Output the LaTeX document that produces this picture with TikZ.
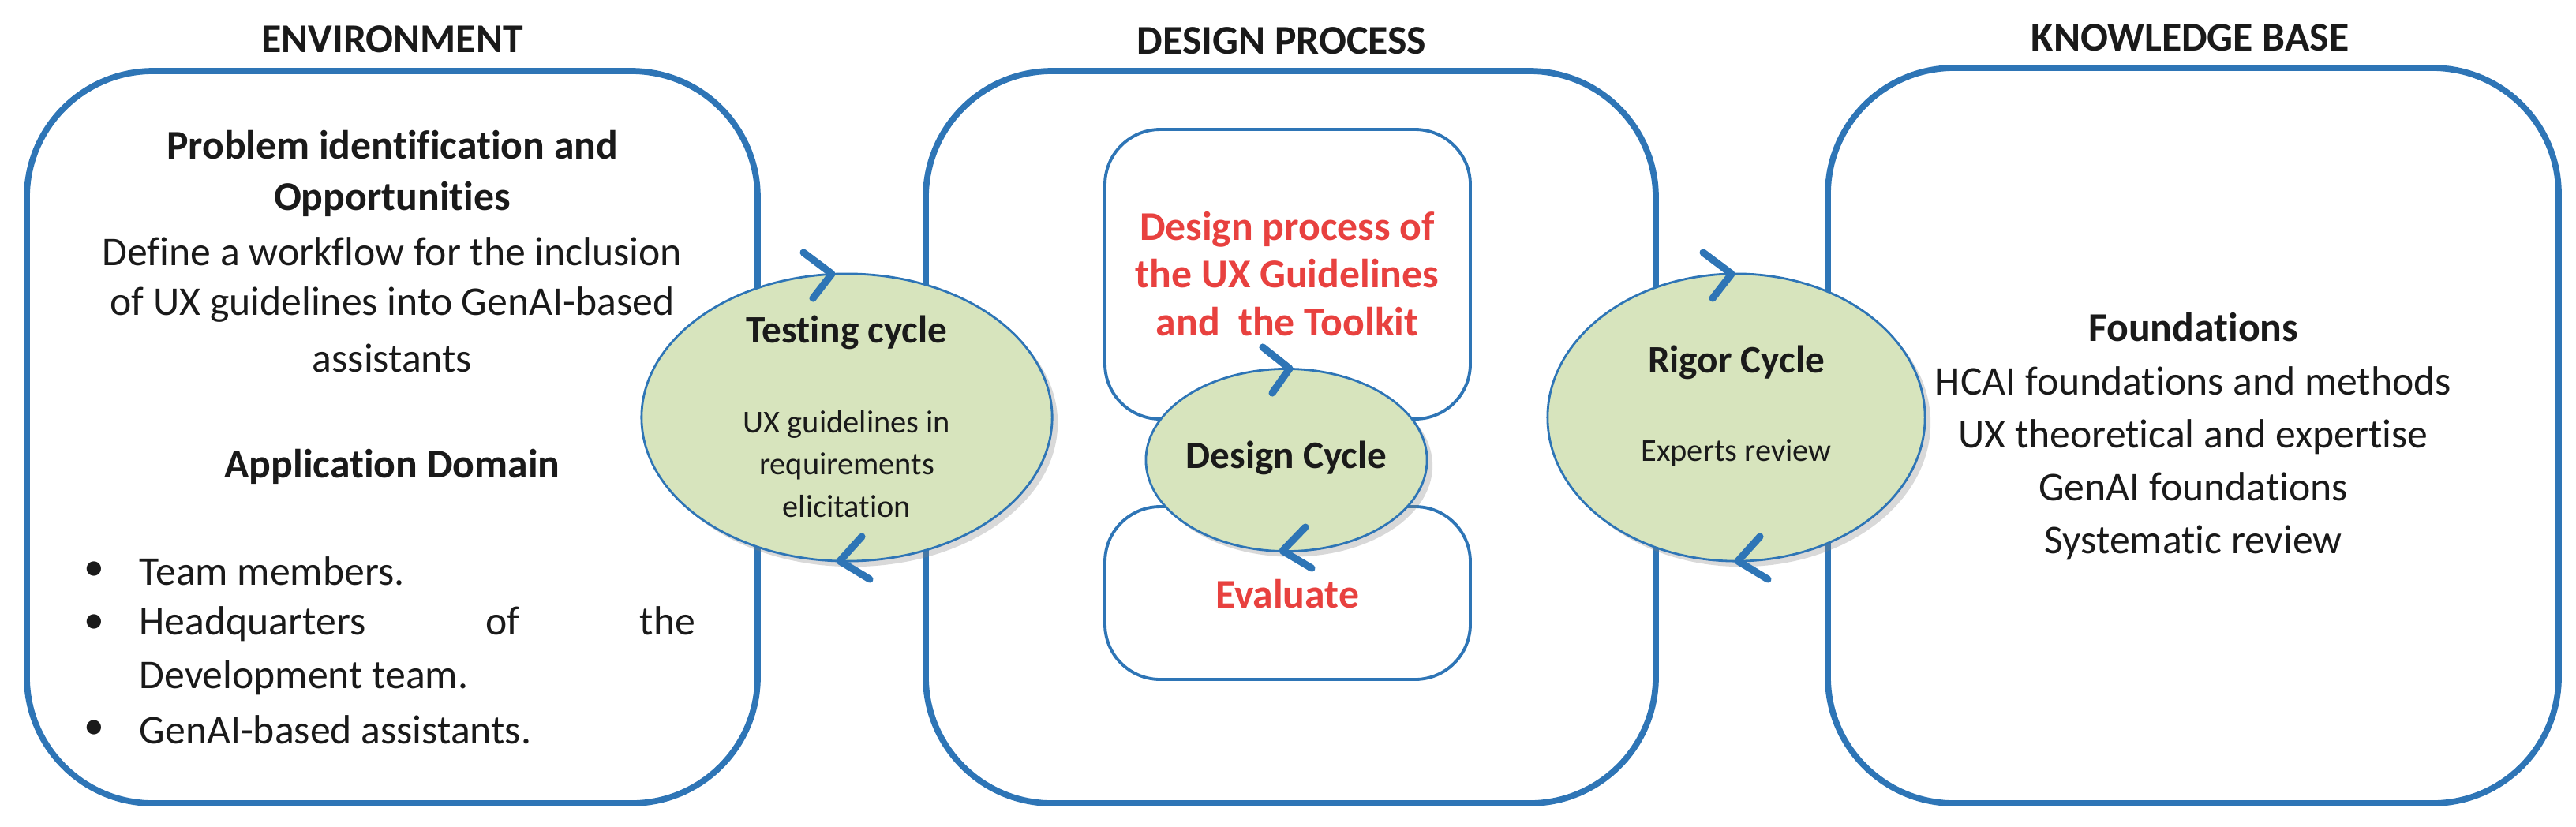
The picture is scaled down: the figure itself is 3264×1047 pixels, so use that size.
\documentclass[tikz,border=0pt]{standalone}
\usepackage{fontspec}
\setmainfont{Carlito}[Ligatures={NoCommon}]
\usetikzlibrary{shapes.geometric,shadows}
\definecolor{bl}{HTML}{2E75B6}
\definecolor{gr}{HTML}{D7E4BD}
\definecolor{rd}{HTML}{E8413F}
\definecolor{tx}{HTML}{1A1A1A}
\begin{document}
\begin{tikzpicture}[x=0.01cm,y=-0.01cm,
  big/.style={draw=bl,line width=2.2pt,rounded corners=1.6cm},
  inner/.style={draw=bl,line width=1.1pt,rounded corners=0.7cm,fill=white},
  cyc/.style={ellipse,draw=bl,line width=0.8pt,fill=gr,inner sep=0pt,drop shadow={shadow xshift=2pt,shadow yshift=-2pt,opacity=0.3}},
  ttl/.style={font=\fontsize{14.7}{17}\selectfont\bfseries,text=tx},
  body/.style={font=\fontsize{14.7}{19}\selectfont,text=tx,align=center},
  bodyb/.style={font=\fontsize{14.7}{19}\selectfont\bfseries,text=tx,align=center},
  cycb/.style={font=\fontsize{14}{17}\selectfont\bfseries,text=tx,align=center},
  small/.style={font=\fontsize{11.5}{15.2}\selectfont,text=tx,align=center},
  chev/.style={draw=bl,line width=2.6pt,line cap=round,line join=round}]
\useasboundingbox (0,0) rectangle (3264,1047);
% big boxes
\draw[big] (34,90) rectangle (960,1018);
\draw[big] (1173,90) rectangle (2098,1018);
\draw[big] (2316,86) rectangle (3242,1018);
\node[ttl] (tenv) at (497,50) {ENVIRONMENT};
\node[ttl] (tdp) at (1624,52) {DESIGN PROCESS};
\node[ttl] (tkb) at (2775,48) {KNOWLEDGE BASE};
% left content
\node[bodyb] (p1) at (497,184) {Problem identification and};
\node[bodyb] (p2) at (497,252) {Opportunities};
\node[body] (p3) at (497,319) {Define a workflow for the inclusion};
\node[body] (p4) at (497,386) {of UX guidelines into GenAI-based};
\node[body] (p5) at (497,454) {assistants};
\node[bodyb] (ad) at (497,591) {Application Domain};
\node[body] (b1d) at (119,724) {\textbullet};
\node[body,anchor=west,inner sep=0pt] (b1) at (176,724) {Team members.};
\node[body] (b2d) at (119,791) {\textbullet};
\node[body,anchor=west,inner sep=0pt] (b2) at (176,791) {\hbox to 7.04cm{Headquarters\hfill of\hfill the}};
\node[body,anchor=west,inner sep=0pt] (b2b) at (176,859) {Development team.};
\node[body] (b3d) at (119,925) {\textbullet};
\node[body,anchor=west,inner sep=0pt] (b3) at (176,925) {GenAI-based assistants.};
% middle inner boxes
\draw[inner] (1400,164) rectangle (1863,531);
\draw[inner] (1400,642) rectangle (1863,861);
\node[bodyb,text=rd,font=\fontsize{14.7}{17.3}\selectfont\bfseries] (dp) at (1631,347) {Design process of\\the UX Guidelines\\and\ \ the Toolkit};
\node[bodyb,text=rd] (ev) at (1631,753) {Evaluate};
% right content
\node[bodyb] (fd) at (2779,415) {Foundations};
\node[body] (fl) at (2779,587) {HCAI foundations and methods\\UX theoretical and expertise\\GenAI foundations\\Systematic review};
% cycles
\node[cyc,minimum width=5.2cm,minimum height=3.64cm] (tc) at (1073,529) {};
\node[cycb] (tct) at (1073,421) {Testing cycle};
\node[small] (tcs) at (1073,588) {UX guidelines in\\requirements\\elicitation};
\node[cyc,minimum width=3.56cm,minimum height=2.31cm] (dc) at (1630,583) {};
\node[cycb] (dct) at (1630,580) {Design Cycle};
\node[cyc,minimum width=4.78cm,minimum height=3.64cm] (rc) at (2200,529) {};
\node[cycb] (rct) at (2200,459) {Rigor Cycle};
\node[small] (rcs) at (2200,574) {Experts review};
% chevrons
\draw[chev] (1018,320) -- (1054,347) -- (1030,378);
\draw[chev] (1092,680) -- (1064,711) -- (1102,734);
\draw[chev] (1600,440) -- (1634,467) -- (1612,498);
\draw[chev] (1654,668) -- (1625,698) -- (1662,720);
\draw[chev] (2158,320) -- (2194,347) -- (2170,378);
\draw[chev] (2230,680) -- (2202,711) -- (2240,734);
\end{tikzpicture}
\end{document}
